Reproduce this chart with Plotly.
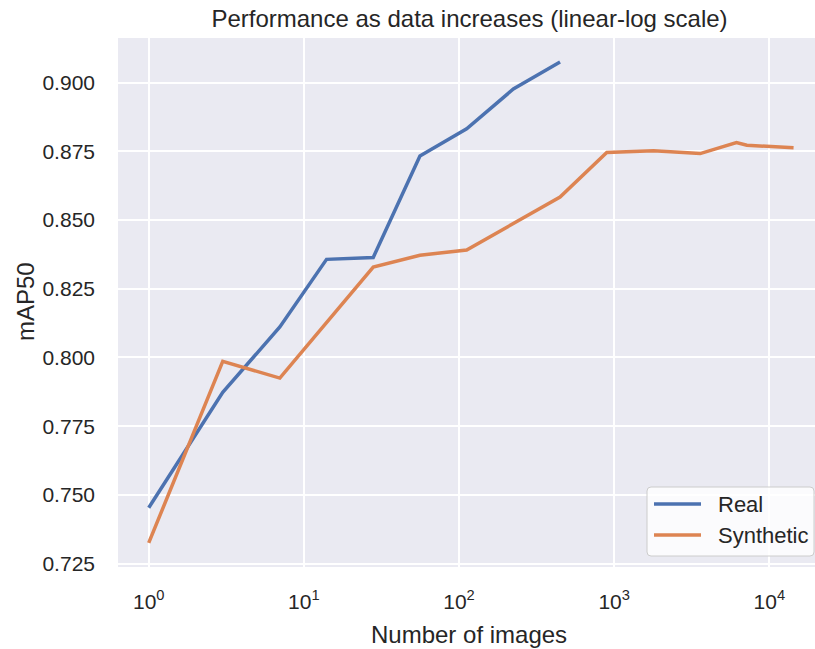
import plotly.graph_objects as go

# ---- data ----
real_x = [1, 3, 7, 14, 28, 56, 112, 224, 448]
real_y = [0.7453, 0.7873, 0.8111, 0.8357, 0.8364, 0.8733, 0.8832, 0.8977, 0.9075]
syn_x = [1, 3, 7, 28, 56, 112, 448, 896, 1792, 3584, 6144, 7168, 14336]
syn_y = [0.7325, 0.7986, 0.7925, 0.8329, 0.8372, 0.8391, 0.8584, 0.8746, 0.8752,
         0.8742, 0.8782, 0.8772, 0.8763]
series_names = ["Real", "Synthetic"]
x_tickvals = [1, 10, 100, 1000, 10000]
x_ticktext = ["10<sup>0</sup>", "10<sup>1</sup>", "10<sup>2</sup>", "10<sup>3</sup>", "10<sup>4</sup>"]
y_tickvals = [0.725, 0.75, 0.775, 0.8, 0.825, 0.85, 0.875, 0.9]
y_ticktext = ["0.725", "0.750", "0.775", "0.800", "0.825", "0.850", "0.875", "0.900"]

BLUE = "#4C72B0"
ORANGE = "#DD8452"
FONT = "Arial, Liberation Sans, sans-serif"
TXT = "#262626"

W, H = 815, 649
L, R, T, B = 118, 0, 38, 82
PW, PH = W - L - R, H - T - B


def px(xp):
    return (xp - L) / PW


def py(yp):
    return (H - B - yp) / PH


fig = go.Figure()
fig.add_trace(go.Scatter(x=real_x, y=real_y, mode="lines", name=series_names[0],
                         line=dict(color=BLUE, width=3.5), showlegend=False))
fig.add_trace(go.Scatter(x=syn_x, y=syn_y, mode="lines", name=series_names[1],
                         line=dict(color=ORANGE, width=3.5), showlegend=False))

# custom legend (matplotlib-like)
lx0, lx1, ly0, ly1, r = 647, 814, 487, 556, 4
path = (f"M {px(lx0 + r)},{py(ly0)} L {px(lx1 - r)},{py(ly0)} "
        f"Q {px(lx1)},{py(ly0)} {px(lx1)},{py(ly0 + r)} L {px(lx1)},{py(ly1 - r)} "
        f"Q {px(lx1)},{py(ly1)} {px(lx1 - r)},{py(ly1)} L {px(lx0 + r)},{py(ly1)} "
        f"Q {px(lx0)},{py(ly1)} {px(lx0)},{py(ly1 - r)} L {px(lx0)},{py(ly0 + r)} "
        f"Q {px(lx0)},{py(ly0)} {px(lx0 + r)},{py(ly0)} Z")
shapes = [dict(type="path", path=path, xref="paper", yref="paper",
               fillcolor="rgba(255,255,255,0.8)", line=dict(color="#CCCCCC", width=1))]
annotations = []
for i, (name, col) in enumerate(zip(series_names, [BLUE, ORANGE])):
    yy = 504 + i * 31
    shapes.append(dict(type="line", xref="paper", yref="paper",
                       x0=px(654), x1=px(701), y0=py(yy), y1=py(yy),
                       line=dict(color=col, width=3.5)))
    annotations.append(dict(text=name, xref="paper", yref="paper", x=px(716), y=py(yy),
                            xanchor="left", yanchor="middle", showarrow=False,
                            font=dict(family=FONT, size=22, color=TXT)))

annotations.append(dict(text="Number of images", xref="paper", yref="paper",
                        x=px(469), y=py(634), xanchor="center", yanchor="middle",
                        showarrow=False, font=dict(family=FONT, size=24, color=TXT)))
annotations.append(dict(text="mAP50", xref="paper", yref="paper",
                        x=px(25), y=py(302), xanchor="center", yanchor="middle",
                        textangle=-90, showarrow=False,
                        font=dict(family=FONT, size=24, color=TXT)))

fig.update_layout(
    width=W, height=H,
    margin=dict(l=L, r=R, t=T, b=B, pad=0),
    paper_bgcolor="white", plot_bgcolor="#EAEAF2",
    font=dict(family=FONT, color=TXT),
    title=dict(text="Performance as data increases (linear-log scale)",
               x=469.5 / W, xref="container", xanchor="center",
               y=1 - 19 / H, yref="container", yanchor="middle",
               font=dict(family=FONT, size=24, color=TXT)),
    shapes=shapes, annotations=annotations, showlegend=False,
)
fig.update_xaxes(type="log", range=[-0.198, 4.2946],
                 tickvals=x_tickvals, ticktext=x_ticktext,
                 tickfont=dict(family=FONT, size=21, color=TXT),
                 showgrid=True, gridcolor="white", gridwidth=2,
                 zeroline=False, showline=False, ticks="", ticklabelstandoff=20)
fig.update_yaxes(range=[0.72375, 0.91625],
                 tickvals=y_tickvals, ticktext=y_ticktext,
                 tickfont=dict(family=FONT, size=21, color=TXT),
                 showgrid=True, gridcolor="white", gridwidth=2,
                 zeroline=False, showline=False, ticks="", ticklabelstandoff=22)

fig.write_html("out.html")
